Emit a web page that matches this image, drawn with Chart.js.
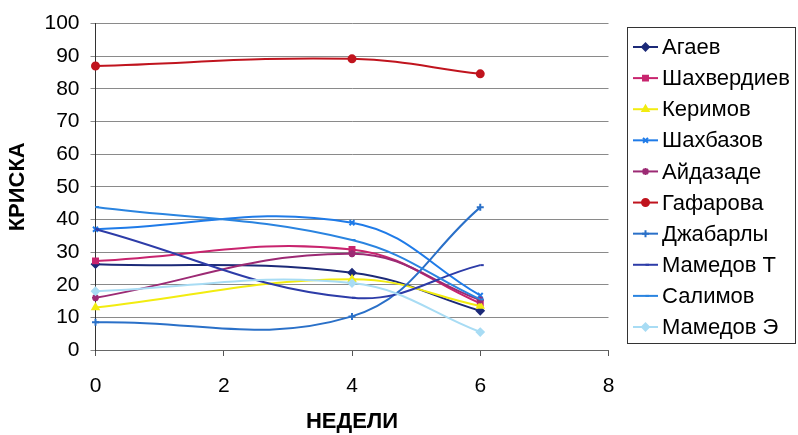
<!DOCTYPE html>
<html>
<head>
<meta charset="utf-8">
<script src="https://cdn.jsdelivr.net/npm/chart.js@4.4.1/dist/chart.umd.min.js"></script>
<style>
  html, body { margin: 0; padding: 0; background: #ffffff; }
  #wrap { width: 798px; height: 435px; }
</style>
</head>
<body>
<div id="wrap"><canvas id="c" width="798" height="435"></canvas></div>
<script>
// Weeks of observation
const weeks = [0, 4, 6];

// Student names (series)
const names = ['Агаев', 'Шахвердиев', 'Керимов', 'Шахбазов', 'Айдазаде',
               'Гафарова', 'Джабарлы', 'Мамедов Т', 'Салимов', 'Мамедов Э'];

// Values per student, one per week
const agaev        = [26.3, 23.7, 12.0];
const shakhverdiev = [27.3, 30.8, 14.3];
const kerimov      = [13.0, 21.7, 13.5];
const shakhbazov   = [37.0, 39.0, 16.7];
const aydazade     = [16.0, 29.5, 15.3];
const gafarova     = [87.0, 89.2, 84.6];
const dzhabarly    = [8.5, 10.3, 43.7];
const mamedovT     = [37.0, 16.0, 26.0];
const salimov      = [43.8, 33.7, 15.5];
const mamedovE     = [18.0, 20.5, 5.5];

const seriesValues = [agaev, shakhverdiev, kerimov, shakhbazov, aydazade,
                      gafarova, dzhabarly, mamedovT, salimov, mamedovE];

// Axis ticks
const yTicks = [0, 10, 20, 30, 40, 50, 60, 70, 80, 90, 100];
const xTicks = [0, 2, 4, 6, 8];

const colors = ['#1c2a78', '#c8246e', '#f2ec10', '#1f7be8', '#9c2a74',
                '#c0141e', '#2a70c8', '#2d3ca8', '#2a84e0', '#a8dcf4'];
const markers = ['rectRot', 'rect', 'triangle', 'crossRot', 'star',
                 'circle', 'cross', 'dash', 'dash', 'rectRot'];

const FONT = "'Liberation Sans', Arial, sans-serif";

const datasets = names.map((name, i) => ({
  label: name,
  data: weeks.map((w, k) => ({ x: w, y: seriesValues[i][k] })),
  borderColor: colors[i],
  backgroundColor: colors[i],
  borderWidth: 2,
  tension: 0.4,
  pointStyle: markers[i],
  pointRadius: 3.5,
  pointBorderWidth: 2,
  pointBorderColor: colors[i],
  pointBackgroundColor: colors[i],
  clip: false,
  order: -i
}));

// Boxed legend with line-and-marker samples on the right
const boxLegend = {
  id: 'boxLegend',
  afterDraw(chart) {
    const ctx = chart.ctx;
    const left = 627, top = 27, right = 795, bottom = 343;
    ctx.save();
    ctx.strokeStyle = '#333';
    ctx.lineWidth = 1;
    ctx.strokeRect(left + 0.5, top + 0.5, right - left, bottom - top);
    const step = (327 - 47) / 9;
    chart.data.datasets.forEach((ds, i) => {
      const y = 47 + step * i;
      ctx.strokeStyle = ds.borderColor;
      ctx.lineWidth = 2;
      ctx.beginPath();
      ctx.moveTo(633, y);
      ctx.lineTo(658, y);
      ctx.stroke();
      ctx.fillStyle = ds.borderColor;
      ctx.strokeStyle = ds.borderColor;
      Chart.helpers.drawPoint(ctx, {
        pointStyle: ds.pointStyle, radius: 3.5, borderWidth: 2, rotation: 0
      }, 645.5, y);
      ctx.fillStyle = '#000';
      ctx.font = '22px ' + FONT;
      ctx.textBaseline = 'middle';
      ctx.textAlign = 'left';
      ctx.fillText(ds.label, 662, y + 1);
    });
    ctx.restore();
  }
};

new Chart(document.getElementById('c'), {
  type: 'line',
  data: { datasets },
  plugins: [boxLegend],
  options: {
    responsive: false,
    animation: false,
    devicePixelRatio: 1,
    layout: { padding: { left: 5, right: 189.5, top: 20, bottom: 0 } },
    plugins: { legend: { display: false }, tooltip: { enabled: false } },
    scales: {
      x: {
        type: 'linear',
        min: 0, max: 8,
        afterBuildTicks(scale) { scale.ticks = xTicks.map(v => ({ value: v })); },
        afterFit(scale) { scale.height = 85; },
        ticks: { color: '#000', font: { family: FONT, size: 21 }, padding: 18, maxRotation: 0 },
        grid: { drawOnChartArea: false, drawTicks: true, tickLength: 6, color: '#555' },
        border: { color: '#666', width: 1 },
        title: { display: true, text: 'НЕДЕЛИ', color: '#000',
                 font: { family: FONT, size: 22, weight: 'bold' }, padding: 0 }
      },
      y: {
        min: 0, max: 100,
        afterBuildTicks(scale) { scale.ticks = yTicks.map(v => ({ value: v })); },
        afterFit(scale) { scale.width = 90.5; },
        ticks: { color: '#000', font: { family: FONT, size: 21 }, padding: 11 },
        grid: { color: '#8a8a8a', lineWidth: 1, tickLength: 5 },
        border: { color: '#333', width: 1 },
        title: { display: true, text: 'КРИСКА', color: '#000',
                 font: { family: FONT, size: 22, weight: 'bold' }, padding: 0 }
      }
    }
  }
});
</script>
</body>
</html>
